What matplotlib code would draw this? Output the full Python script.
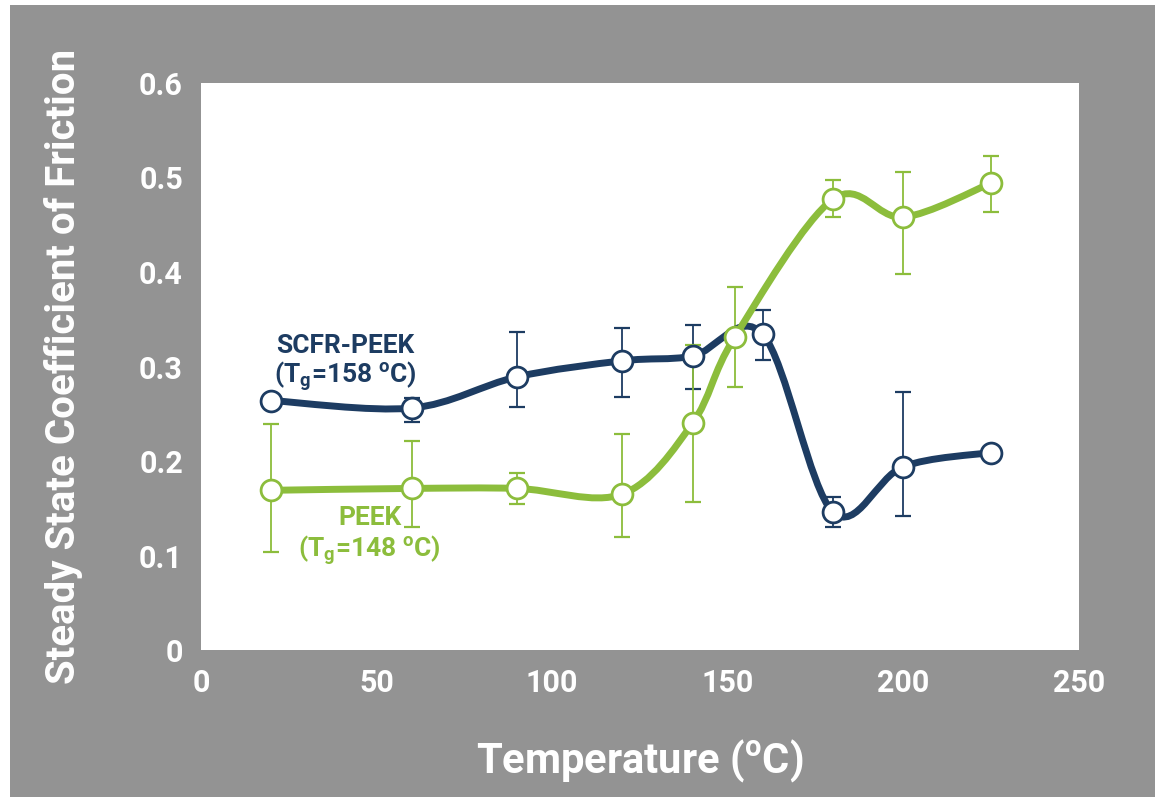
import numpy as np
import matplotlib
matplotlib.use("Agg")
import matplotlib.pyplot as plt
from matplotlib.path import Path
from matplotlib.patches import PathPatch, Rectangle

plt.rcParams['font.family'] = ['Roboto', 'DejaVu Sans']
plt.rcParams['font.weight'] = 'bold'
plt.rcParams['axes.labelweight'] = 'bold'
plt.rcParams['mathtext.default'] = 'regular'

# SCFR-PEEK (blue)
blue_x = [20, 60, 90, 120, 140, 160, 180, 200, 225]
blue_y = [0.264, 0.256, 0.289, 0.306, 0.311, 0.334, 0.146, 0.194, 0.209]
blue_up = [0, 0.011, 0.047, 0.035, 0.033, 0.026, 0.016, 0.079, 0]
blue_dn = [0, 0.015, 0.032, 0.038, 0.035, 0.027, 0.016, 0.052, 0]

# PEEK (green)
green_x = [20, 60, 90, 120, 140, 152, 180, 200, 225]
green_y = [0.169, 0.171, 0.171, 0.165, 0.240, 0.331, 0.477, 0.458, 0.494]
green_up = [0.070, 0.050, 0.016, 0.064, 0.083, 0.053, 0.020, 0.048, 0.029]
green_dn = [0.065, 0.041, 0.017, 0.045, 0.083, 0.053, 0.019, 0.060, 0.031]

x_ticks = [0, 50, 100, 150, 200, 250]
y_ticks = [0, 0.1, 0.2, 0.3, 0.4, 0.5, 0.6]
y_labels = ['0', '0.1', '0.2', '0.3', '0.4', '0.5', '0.6']

BLUE = '#1d3c62'
GREEN = '#8cbd3c'
GRAY = '#939393'


def smooth_path(xs, ys):
    # Excel-style smoothed line: cubic Bezier segments through the points
    p = np.column_stack([xs, ys]).astype(float)
    ext = np.vstack([p[0], p, p[-1]])
    verts = [p[0]]
    codes = [Path.MOVETO]
    for i in range(len(p) - 1):
        p0, p1, p2, p3 = ext[i], ext[i + 1], ext[i + 2], ext[i + 3]
        c1 = p1 + (p2 - p0) / 6
        c2 = p2 - (p3 - p1) / 6
        verts += [c1, c2, p2]
        codes += [Path.CURVE4] * 3
    return Path(verts, codes)


fig = plt.figure(figsize=(11.55, 7.97), dpi=100, facecolor='white')
fig.patches.append(Rectangle((10 / 1155, 0), 1, (797 - 5) / 797,
                             transform=fig.transFigure, facecolor=GRAY,
                             edgecolor='none', zorder=-10))

ax = fig.add_axes([0.174, 0.1844, 0.760, 0.7115])
ax.set_facecolor('white')

# error bars
ax.errorbar(blue_x, blue_y, yerr=[blue_dn, blue_up], fmt='none', ecolor=BLUE,
            elinewidth=1.3, capsize=6, capthick=1.6, zorder=2)
ax.errorbar(green_x, green_y, yerr=[green_dn, green_up], fmt='none', ecolor=GREEN,
            elinewidth=1.3, capsize=6, capthick=1.6, zorder=2)

# smoothed lines
ax.add_patch(PathPatch(smooth_path(blue_x, blue_y), facecolor='none',
                       edgecolor=BLUE, lw=5, capstyle='round', zorder=3))
ax.add_patch(PathPatch(smooth_path(green_x, green_y), facecolor='none',
                       edgecolor=GREEN, lw=5, capstyle='round', zorder=4))

# markers
ax.plot(blue_x, blue_y, 'o', ms=15, mfc='white', mec=BLUE, mew=2, zorder=5)
ax.plot(green_x, green_y, 'o', ms=15, mfc='white', mec=GREEN, mew=2, zorder=5)

ax.set_xlim(0, 250)
ax.set_ylim(0, 0.6)
ax.set_xticks(x_ticks)
ax.set_yticks(y_ticks)
ax.set_yticklabels(y_labels)
ax.tick_params(length=0, labelsize=22, labelcolor='white', pad=13)
for s in ax.spines.values():
    s.set_visible(False)

ax.set_xlabel('Temperature ($^{o}$C)', fontsize=30, color='white', labelpad=28)
ax.set_ylabel('Steady State Coefficient of Friction', fontsize=29, color='white',
              labelpad=40)

ax.text(41, 0.322, 'SCFR-PEEK', color=BLUE, fontsize=19, ha='center', va='center')
ax.text(41, 0.290, '(T$_g$=158 $^o$C)', color=BLUE, fontsize=19, ha='center', va='center')
ax.text(48, 0.140, 'PEEK', color=GREEN, fontsize=19, ha='center', va='center')
ax.text(48, 0.106, '(T$_g$=148 $^o$C)', color=GREEN, fontsize=19, ha='center', va='center')

fig.savefig('out.png', dpi=100, facecolor=fig.get_facecolor())
